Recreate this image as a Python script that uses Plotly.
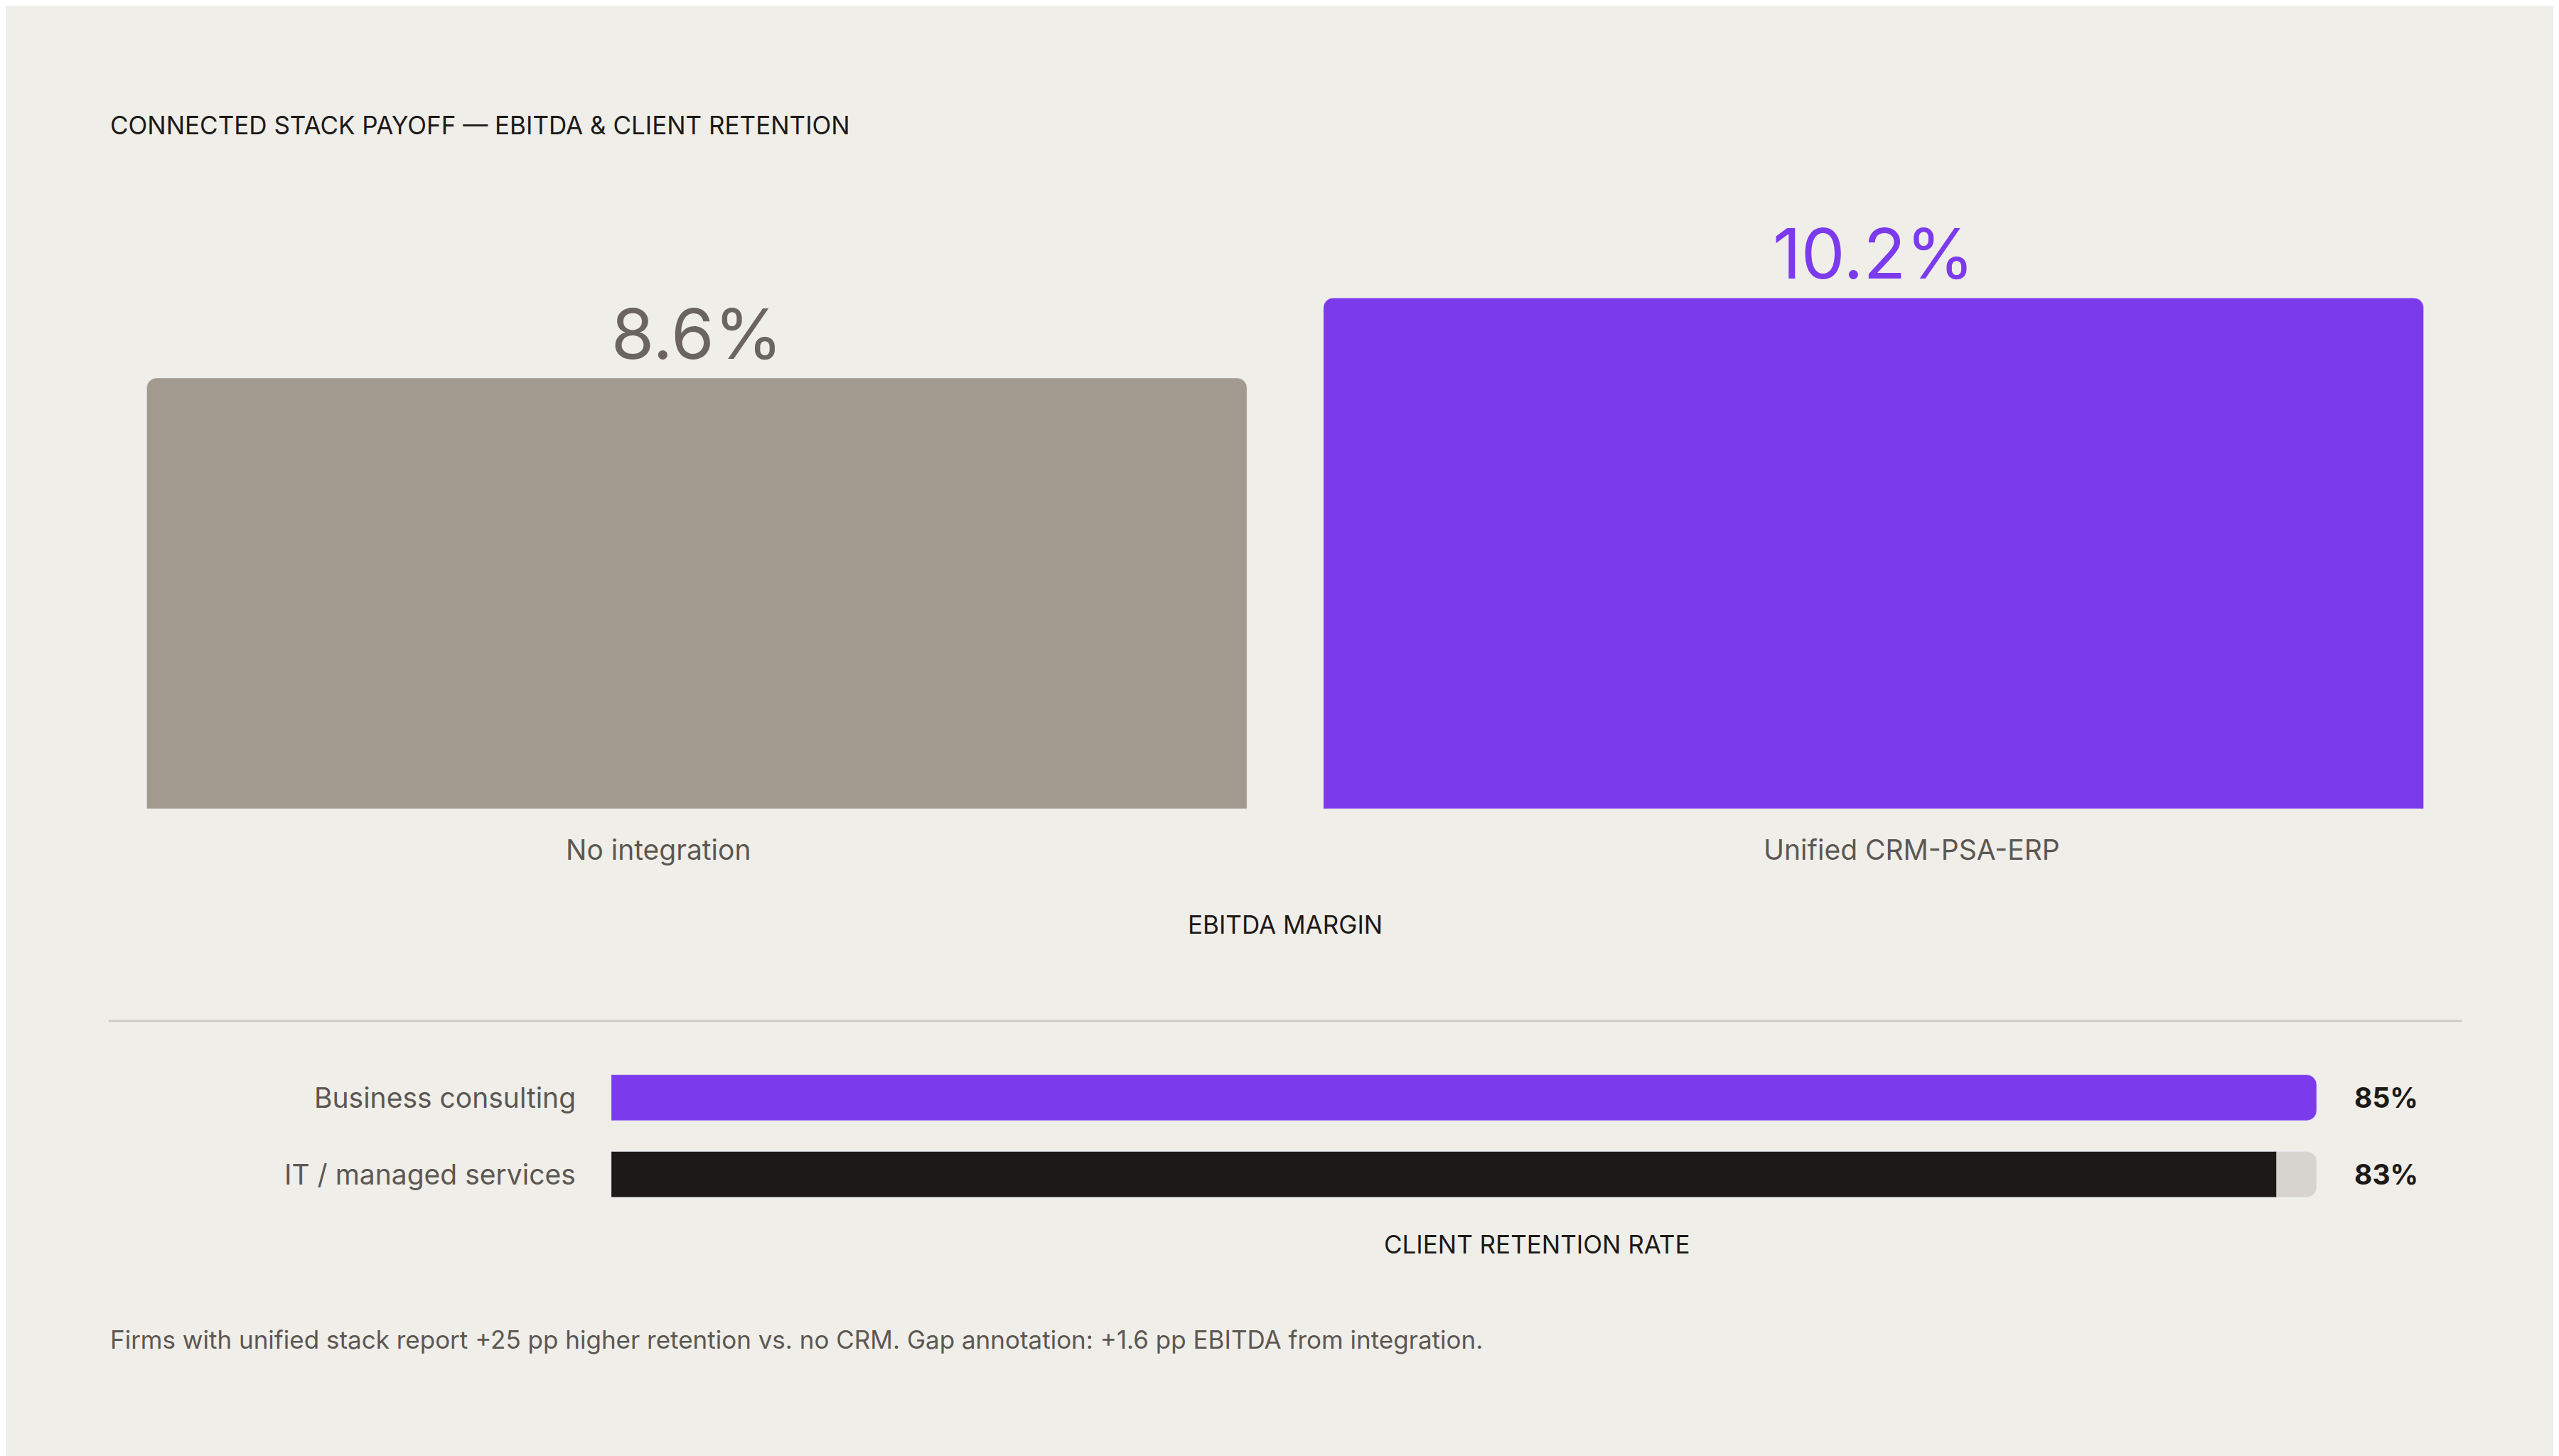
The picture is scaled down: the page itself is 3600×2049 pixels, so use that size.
import plotly.graph_objects as go

W, H = 3600, 2049
S = W / 1568.0
def px(x): return x / 1568.0
def py(y): return 1 - y / 892.0

ebitda_cats = ["No integration", "Unified CRM-PSA-ERP"]
ebitda_vals = [8.6, 10.2]
ebitda_labels = ["8.6%", "10.2%"]
ret_cats = ["Business consulting", "IT / managed services"]
ret_vals = [85, 83]
ret_labels = ["85%", "83%"]
ret_max = 85

BG = "#F0EEE9"; PURPLE = "#7C3AED"; GRAY = "#A29A8E"; DARK = "#1C1917"; TRACK = "#D7D4CF"
FONT = "Inter"

fig = go.Figure()
fig.add_trace(go.Bar(x=ebitda_cats, y=ebitda_vals, marker=dict(color=[GRAY, PURPLE]),
                     width=0.935, text=ebitda_labels, textposition="outside",
                     textfont=dict(size=int(44*S/2.296*2.296/2.296*2.296/2.296*1.0*S/S*44/44), color=["#6B6560", PURPLE], family=FONT),
                     cliponaxis=False, hoverinfo="skip", xaxis="x", yaxis="y"))
fig.data[0].textfont.size = 98
fig.add_trace(go.Bar(y=ret_cats, x=[ret_max]*2, orientation="h", marker=dict(color=TRACK),
                     width=0.596, hoverinfo="skip", xaxis="x2", yaxis="y2"))
fig.add_trace(go.Bar(y=ret_cats, x=ret_vals, orientation="h", marker=dict(color=[PURPLE, DARK]),
                     width=0.596, hoverinfo="skip", xaxis="x2", yaxis="y2"))

ann = []
ann.append(dict(text="CONNECTED STACK PAYOFF — EBITDA & CLIENT RETENTION", x=px(63), y=py(73),
                xanchor="left", yanchor="middle", font=dict(size=35, color=DARK, family=FONT)))
for c, xc in zip(ebitda_cats, [400, 1168]):
    ann.append(dict(text=c, x=px(xc), y=py(517), xanchor="center", yanchor="middle",
                    font=dict(size=39, color="#5C5752", family=FONT)))
ann.append(dict(text="EBITDA MARGIN", x=px(784), y=py(563), xanchor="center", yanchor="middle",
                font=dict(size=35, color=DARK, family=FONT)))
for c, yc in zip(ret_cats, [669, 716]):
    ann.append(dict(text=c, x=px(350), y=py(yc), xanchor="right", yanchor="middle",
                    font=dict(size=39, color="#5C5752", family=FONT)))
for t, yc in zip(ret_labels, [669, 716]):
    ann.append(dict(text="<b>"+t+"</b>", x=px(1438), y=py(yc), xanchor="left", yanchor="middle",
                    font=dict(size=39, color=DARK, family=FONT)))
ann.append(dict(text="CLIENT RETENTION RATE", x=px(938), y=py(759), xanchor="center", yanchor="middle",
                font=dict(size=35, color=DARK, family=FONT)))
ann.append(dict(text="Firms with unified stack report +25 pp higher retention vs. no CRM. Gap annotation: +1.6 pp EBITDA from integration.",
                x=px(63), y=py(817), xanchor="left", yanchor="middle",
                font=dict(size=35, color="#5C5752", family=FONT)))
for a in ann:
    a.update(xref="paper", yref="paper", showarrow=False)

fig.update_layout(
    width=W, height=H, margin=dict(l=0, r=0, t=0, b=0),
    paper_bgcolor=BG, plot_bgcolor=BG, showlegend=False, barmode="overlay",
    barcornerradius=14, annotations=ann,
    xaxis=dict(domain=[px(63), px(1505)], showticklabels=False, showgrid=False, zeroline=False, fixedrange=True),
    yaxis=dict(domain=[py(492), py(179)], range=[0, 10.2], visible=False),
    xaxis2=dict(domain=[px(371), px(1416)], range=[0, ret_max], visible=False, anchor="y2"),
    yaxis2=dict(domain=[py(739.5), py(645.5)], autorange="reversed", visible=False, anchor="x2"),
    shapes=[dict(type="line", xref="paper", yref="paper", x0=px(63), x1=px(1505), y0=py(622), y1=py(622),
                 line=dict(color="#CFCBC5", width=3))],
)
fig.write_html("out.html")
